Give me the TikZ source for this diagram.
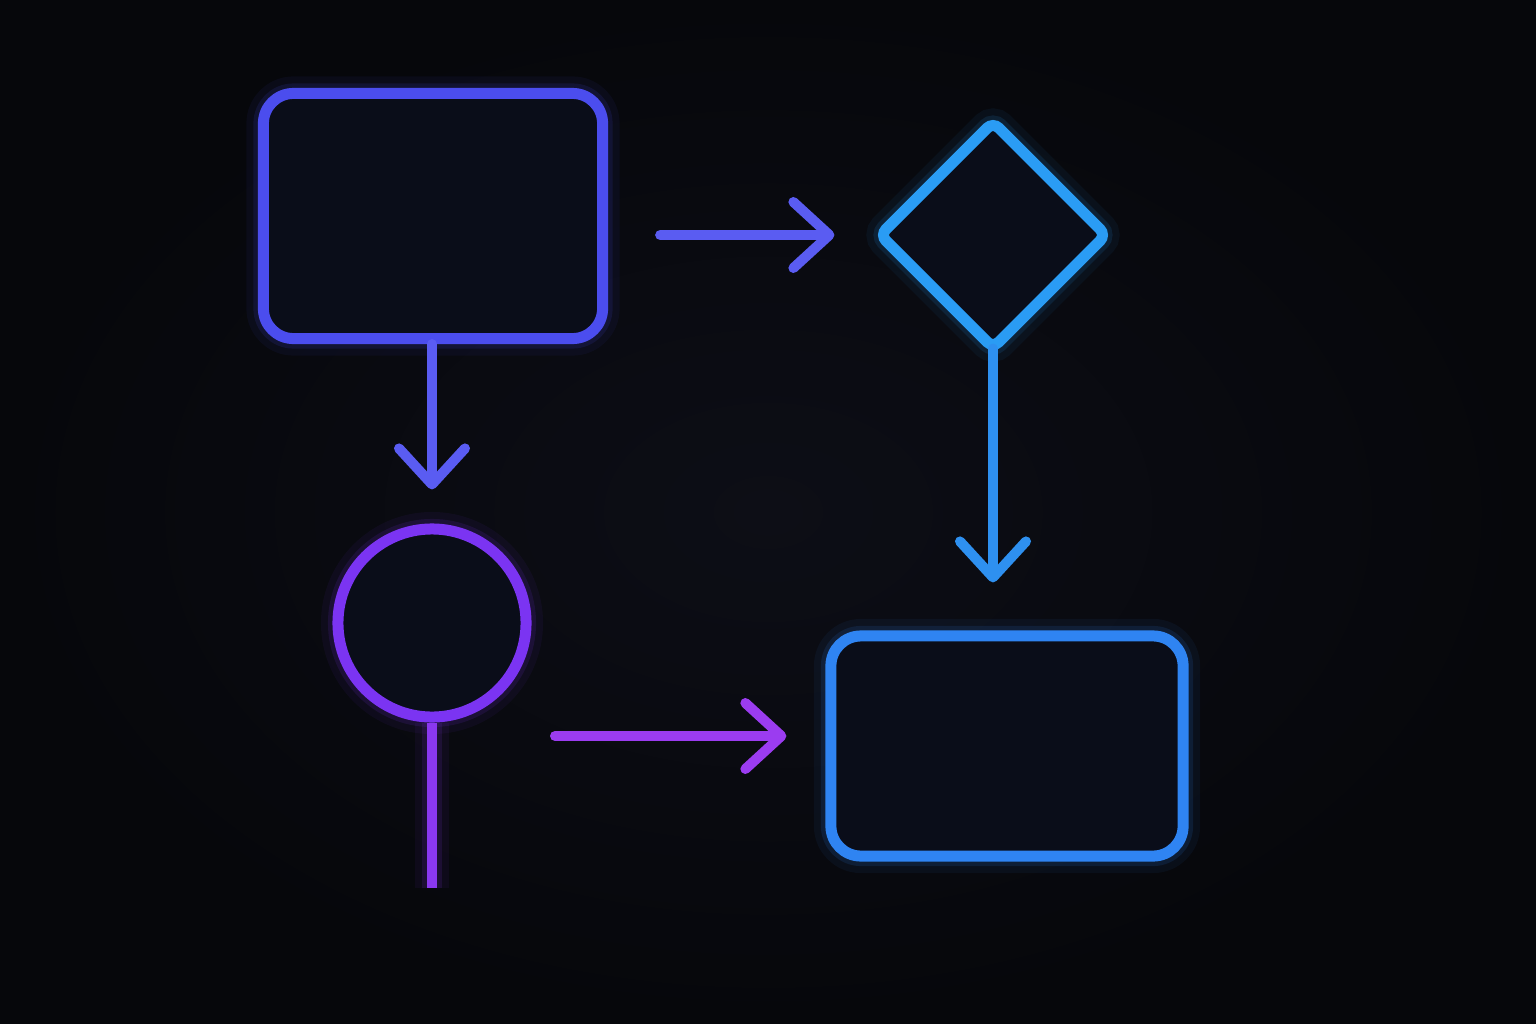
\documentclass[tikz,border=0pt]{standalone}
\usetikzlibrary{arrows.meta,shapes.geometric}

\definecolor{bgdark}{HTML}{06070B}
\definecolor{bgmid}{HTML}{0D0E16}
\definecolor{boxfill}{HTML}{0A0D19}
\definecolor{violetA}{HTML}{4B4DEE}
\definecolor{violetB}{HTML}{5A5CF2}
\definecolor{skyA}{HTML}{2A9CF4}
\definecolor{skyB}{HTML}{2E90F0}
\definecolor{blueA}{HTML}{2F84F2}
\definecolor{purpA}{HTML}{7B34F2}
\definecolor{purpB}{HTML}{8A38F0}
\definecolor{magA}{HTML}{9B3CF0}

\begin{document}
\begin{tikzpicture}[x=0.01cm, y=-0.01cm]
    \tikzset{glow/.style = {preaction={draw=#1, line width=0.34cm, opacity=0.06},
                            preaction={draw=#1, line width=0.2cm, opacity=0.12}}}
    \tikzset{shapebox/.style = {draw=#1, glow=#1, fill=boxfill, line width=0.11cm,
                                inner sep=0pt, rounded corners=0.3cm}}
    \tikzset{flow/.style = {draw=#1, line width=0.1cm, line cap=round,
                            -{Straight Barb[length=3.6mm, width=6.6mm, line cap=round, line join=round]}}}
    \tikzset{stem/.style = {draw=#1, glow=#1, line width=0.1cm}}

    % background
    \fill[bgdark] (0,0) rectangle (1536,1024);
    \shade[inner color=bgmid, outer color=bgdark] (0,0) rectangle (1536,1024);

    % vertices
    \node[shapebox=violetA, minimum width=3.39cm, minimum height=2.45cm] (start) at (433,216) {};
    \node[shapebox=skyA, diamond, aspect=1, minimum size=2.3cm, rounded corners=0.08cm] (check) at (993,235) {};
    \node[shapebox=purpA, circle, minimum size=1.88cm] (stop) at (432,623) {};
    \node[shapebox=blueA, minimum width=3.52cm, minimum height=2.2cm] (result) at (1007,746) {};
    \coordinate (tail) at (432,888);
    \coordinate (outflow) at (555,736);

    % edges
    \draw[flow=violetB, shorten <=0.52cm, shorten >=0.38cm] (start.east |- check.west) to (check.west);
    \draw[flow=violetB, shorten >=0.34cm] (stop.north |- start.south) to (stop.north);
    \draw[flow=skyB, shorten <=-0.07cm, shorten >=0.48cm] (check.south) to (check.south |- result.north);
    \draw[stem=purpB] (stop.south) to (tail);
    \draw[flow=magA, shorten >=0.39cm] (outflow) to (outflow -| result.west);
\end{tikzpicture}
\end{document}
